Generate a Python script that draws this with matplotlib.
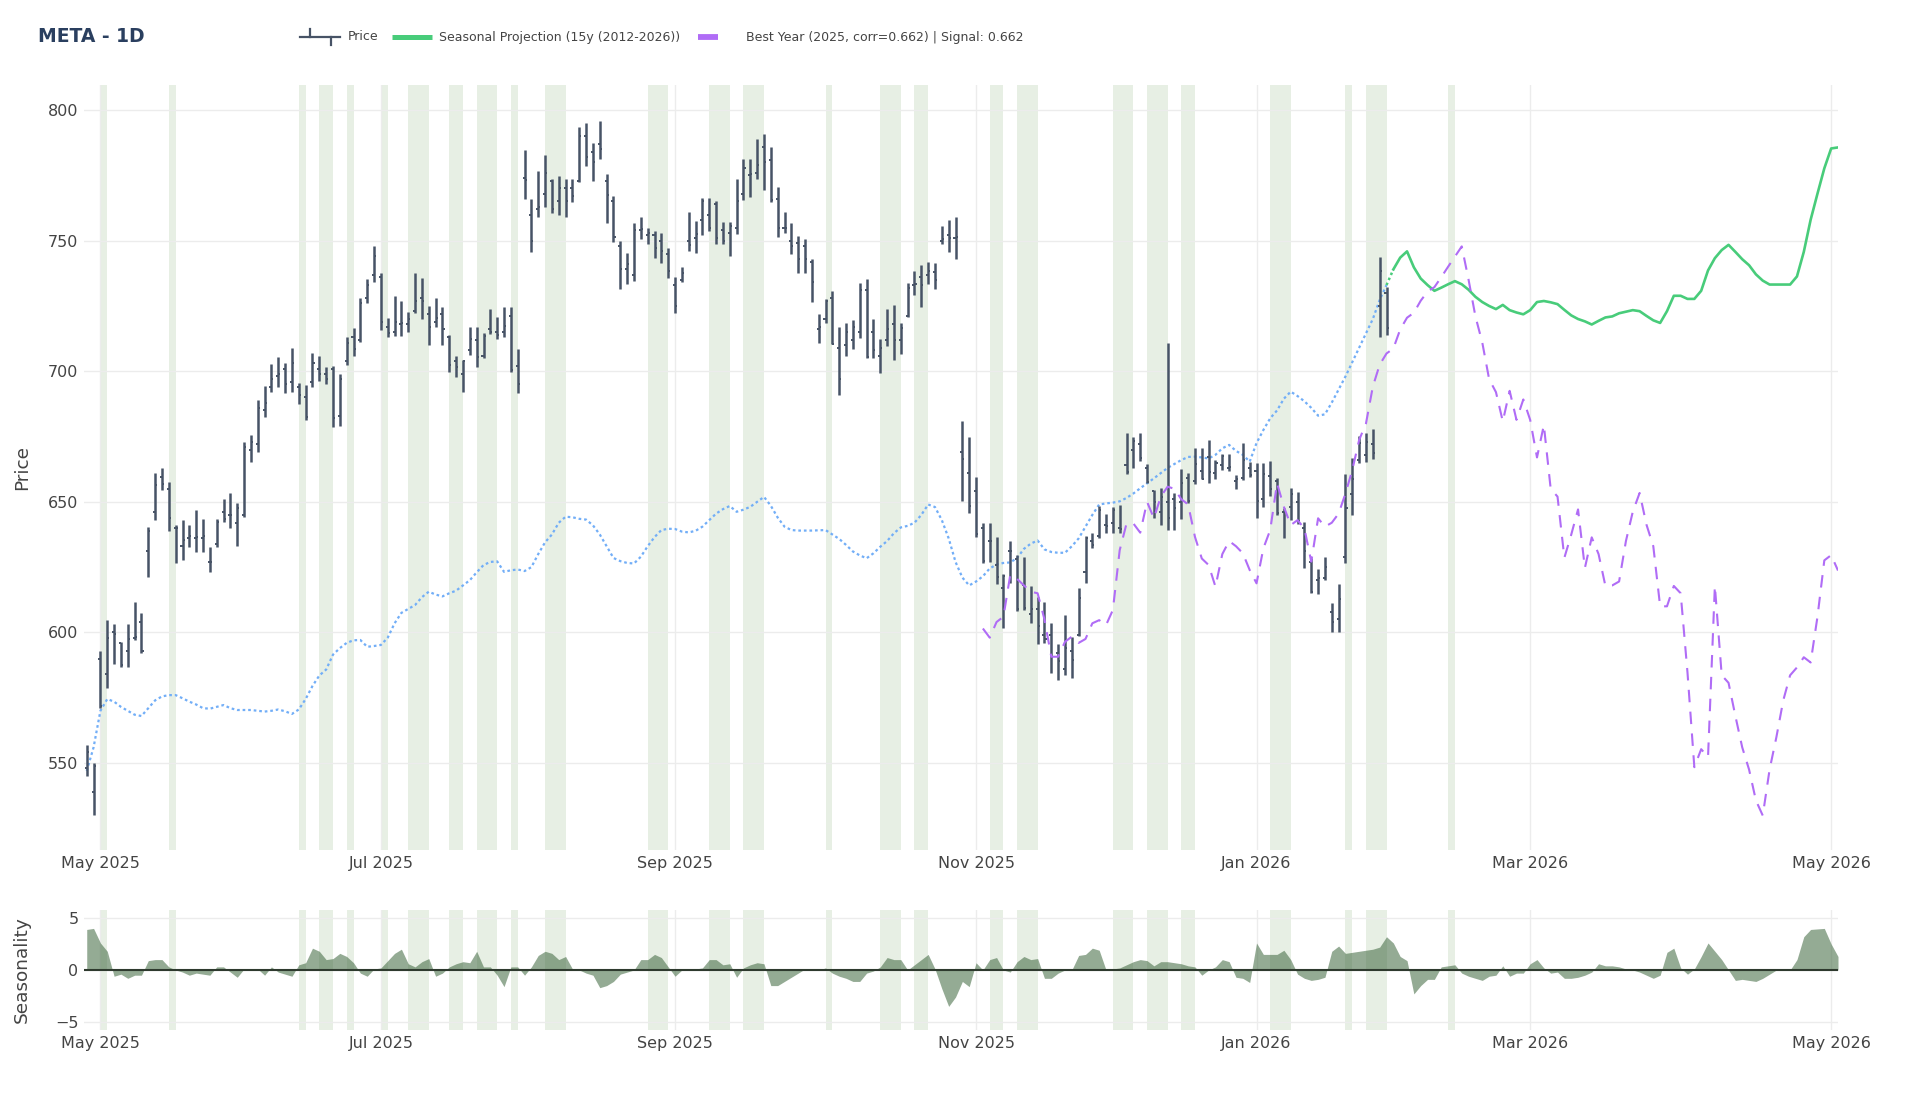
#!/usr/bin/env python3
"""META daily bars with seasonal projection and best-year overlay."""

import matplotlib

matplotlib.use("Agg")
import matplotlib.pyplot as plt
import numpy as np
import pandas as pd
from matplotlib.lines import Line2D

W, H = 1920, 1097

# trading calendar (weekends and these exchange holidays are skipped on the axis)
HOLIDAYS = ["2025-05-26", "2025-06-19", "2025-07-04", "2025-09-01",
            "2025-11-27", "2025-12-25", "2026-01-01", "2026-01-19"]

PRICE_START = "2025-04-29"
opens = [548, 539, 590, 584, 600, 596, 593, 598, 604,
         631, 646, 659.6, 655, 640, 633, 636, 636, 636, 627,
         634, 646, 645, 642, 645, 670, 672, 685, 694, 698,
         701, 696, 694, 690, 696, 701, 699, 701, 683, 704,
         713, 712, 728, 737, 736, 717, 715, 718, 718, 723,
         728, 722, 719, 722, 713, 704, 699, 708, 712, 706,
         716, 715, 715, 721, 702, 774, 760, 762, 768, 773,
         765, 770, 770, 773, 790, 784, 787, 773, 765, 748,
         739, 737, 754, 752, 752, 750, 745, 733, 735, 750,
         751, 758, 760, 764, 754, 753, 755, 768, 775, 776,
         786, 781, 766, 755, 750, 749, 748, 742, 716, 720,
         728, 709, 710, 712, 715, 731, 715, 706, 712, 718,
         712, 721, 733, 736, 737, 738, 750, 752, 751, 669,
         661, 654, 640, 635, 626, 617, 631, 628, 618, 607,
         609, 599, 599, 592, 586, 593, 599, 623, 635, 637,
         641, 642, 640, 664, 670, 672, 663, 654, 646, 650,
         651, 650, 659, 658, 662, 667, 661, 664, 663, 658,
         659, 663, 662, 651, 660, 658, 646, 648, 650, 640,
         627, 620, 621, 608, 605, 629, 653, 666, 668, 672,
         725, 730]
highs = [557, 550, 593, 604.7, 603.4, 596.4, 603.4, 611.5, 607.3,
         640.5, 660.9, 662.8, 657.5, 641.1, 643, 641.1, 646.9, 643.3, 632.8,
         643.3, 650.9, 653.2, 649.4, 673, 675.6, 689, 694.3, 702.8, 705.3,
         703.3, 708.8, 695.4, 694.7, 707.1, 705.8, 701.5, 702, 698.9, 713,
         716.4, 727.9, 735.2, 747.9, 737.7, 720.2, 728.8, 727, 722.8, 737.5,
         735.6, 725, 727.9, 724.5, 713.9, 705.8, 704.5, 716.8, 716.8, 714.5,
         723.7, 720.6, 724.7, 724.5, 708.4, 784.7, 765.8, 776.8, 782.8, 773.5,
         774.7, 773.5, 773.5, 793.6, 795.2, 787.5, 795.9, 775.5, 767.1, 750,
         745.4, 756.6, 758.9, 754.7, 753.8, 752.8, 747, 735.9, 740, 761.1,
         757.6, 766.2, 766.2, 765.3, 757.3, 757.3, 773.8, 781.1, 781.1, 788.8,
         790.8, 785.7, 770.4, 761.1, 756.6, 751.8, 750.5, 742.8, 721.9, 727.5,
         730.8, 716.8, 718.6, 719.6, 733.9, 735.2, 719.9, 712.2, 723.7, 725.4,
         718.3, 733.9, 738.5, 740.7, 742, 741.3, 755.6, 758.1, 758.9, 681.1,
         674.9, 659.4, 642, 642, 636.4, 622.3, 635.1, 629.6, 629, 617.8,
         613.7, 611.8, 603.7, 595.5, 606.7, 598.4, 616.9, 636.9, 638.2, 648.4,
         645.3, 648.1, 648.8, 676.5, 674.7, 676.5, 664.5, 654.5, 655.2, 711,
         653.2, 662.4, 661.2, 670.5, 670.8, 673.7, 666, 668.3, 668.5, 660.3,
         672.4, 665.4, 664.7, 664.7, 665.6, 659, 647.5, 655.2, 653.9, 642.4,
         628.4, 624.1, 629, 611.4, 618.5, 660.6, 666.6, 675.2, 676.5, 677.7,
         743.8, 732.4]
lows = [545, 530, 571, 578.6, 588.1, 586.9, 586.9, 597.1, 592,
        621.3, 643, 654.5, 639, 626.4, 627.7, 632.8, 630.9, 630.9, 623.2,
        632.8, 642.4, 639.9, 633.1, 644.3, 665.4, 669.2, 682.6, 692.2, 694.1,
        691.8, 692.2, 687.5, 681.3, 693.8, 696.4, 695.1, 678.8, 679, 702.4,
        705.8, 711.3, 726.3, 734.3, 715.8, 713, 713.5, 713.5, 715.1, 722.4,
        719.9, 710, 716.8, 710, 699.8, 697.7, 692.2, 706.2, 701.7, 704.9,
        714.2, 712.2, 713.2, 699.8, 691.5, 765.8, 745.8, 758.9, 763, 760.7,
        759.8, 758.9, 764.9, 772.6, 778.6, 772.8, 781.1, 756.9, 749.6, 731.4,
        733.4, 734.7, 750.5, 748.7, 743.2, 741.3, 735.6, 722.2, 734.3, 746.2,
        745.4, 752.2, 753.8, 748.7, 748.7, 744.1, 752.5, 765.5, 766.8, 773.5,
        769.4, 764.9, 751.3, 752.8, 744.9, 737.7, 737.7, 726.6, 710.7, 718.6,
        710.4, 690.9, 705.8, 708.4, 712.6, 704.9, 704.9, 699.4, 709.6, 704.3,
        706.6, 720.6, 729.2, 724.5, 733.4, 731.4, 748.7, 745.8, 742.8, 650.4,
        645.8, 636.6, 626.7, 627.1, 618.5, 601.6, 619, 608.3, 608.6, 603.5,
        595.6, 595.8, 584.3, 581.8, 583.7, 582.4, 598.6, 618.8, 632.2, 636,
        638.2, 638.2, 638.2, 660.6, 662.8, 665.8, 657.1, 643.7, 641.1, 639.2,
        639.2, 643.3, 649.7, 656.8, 658.6, 657.1, 658.6, 662.2, 661.9, 654.8,
        658.3, 659.6, 643.7, 648.1, 652.2, 644.9, 636, 643, 641.5, 624.5,
        615.2, 614.7, 620.1, 600.3, 600.3, 626.7, 644.9, 665, 665.4, 666.3,
        713.2, 713.9]
closes = [554.4, 549, 572, 597.7, 599.5, 587.5, 597.5, 598.3, 593,
          639, 656.5, 657, 644, 640, 635.5, 637, 636.5, 637, 627,
          642.3, 643.6, 645, 647.5, 670.9, 673, 686, 688, 697, 699,
          695, 703, 691, 682.5, 703, 699, 697, 682, 697, 711,
          708.5, 726, 733, 744, 719, 714.5, 719, 718.5, 720, 727,
          727, 717, 720.5, 716, 702.5, 701.5, 704, 712.5, 705.5, 713.5,
          715, 714, 717.5, 700.5, 695, 773.4, 750, 763, 776, 762,
          770, 765, 767, 790, 782, 780, 785, 767.5, 751.5, 739,
          741, 754, 754.5, 753, 747, 746, 738.5, 725, 737.5, 748.5,
          752.5, 765, 755, 751, 750, 755.5, 765, 778, 775.5, 779,
          780, 765.5, 755, 755, 748, 743, 743, 734, 717, 727,
          710.5, 697, 715, 717, 731, 705.5, 708, 709, 716, 712,
          716.5, 732, 733.5, 733, 738.5, 735, 750.8, 751, 751.5, 666.5,
          648.5, 637.7, 627.3, 635, 621.2, 621.5, 631.3, 609, 609.5, 609,
          602.5, 597.5, 590.5, 589, 594, 589.5, 613, 636, 633.5, 647,
          640.9, 647, 639.6, 661.5, 673.4, 666.9, 657.5, 650.1, 652, 644,
          647.5, 657.1, 650.4, 664.5, 658.8, 661.5, 664.8, 667.5, 663.3, 658.7,
          665.9, 660.1, 650.4, 660.6, 655, 645.7, 646.1, 653.1, 642.5, 631,
          615.5, 620.8, 625, 604, 612.9, 647.6, 658.8, 672.4, 673, 668.7,
          738.3, 716.5]

# seasonal path scaled onto history (light blue dotted), same dates as price
seasonal_hist = [547, 556, 570, 574.5, 573.5, 571.5, 570, 568.5, 568,
                 571, 574, 575.5, 576, 576, 574.8, 573.5, 572.4, 571, 570.8,
                 571.5, 572.2, 571, 570.3, 570.3, 570.3, 570, 569.7, 570, 570.5,
                 569.8, 568.8, 570.5, 574.5, 579.5, 583.5, 585.8, 591.5, 594, 596,
                 597, 597.1, 594.5, 594.8, 595.2, 598, 603.5, 607.5, 609, 610.5,
                 613.5, 615.6, 614.5, 613.8, 615, 616, 618, 620, 623, 625.8,
                 627, 627.2, 623.2, 623.8, 624.1, 623.5, 625, 630, 634.5, 637.5,
                 642, 644.3, 644.1, 643.5, 643.2, 641, 637.5, 633, 628.5, 627.3,
                 626.6, 626.4, 629, 633, 636.5, 639.2, 639.7, 639.6, 638.6, 638.3,
                 638.9, 640.5, 643, 645.5, 647.2, 648.4, 646.2, 647, 648.1, 650,
                 651.9, 648.5, 644, 640.5, 639.2, 639, 639, 639, 639.1, 639.2,
                 637.5, 635.8, 633.5, 631, 629.5, 628.4, 630.3, 632.8, 635, 638,
                 640.2, 640.8, 642, 645, 649, 648, 643, 636, 627, 621,
                 618, 619.5, 621.5, 624.5, 626, 626.6, 626.8, 628.5, 632, 634,
                 635.2, 631.8, 630.8, 630.5, 630.5, 633, 636, 640.5, 645, 649,
                 649.4, 649.7, 650.2, 651.5, 653.2, 655.2, 657.1, 659, 661, 663,
                 664.5, 666, 667.2, 667.3, 667, 666.6, 668, 670.5, 671.8, 669.5,
                 668, 665.4, 672.5, 677.5, 682, 685, 689.5, 692.2, 690.5, 688.5,
                 686, 683, 683.5, 688, 693, 698, 703.5, 709, 714.5, 720,
                 727.3, 733]

PROJ_START = "2026-02-02"
projection = [739.0, 743.5, 745.9, 739.8, 735.5, 733.0, 730.8, 732.0, 733.3, 734.5,
              733.3, 731.2, 728.5, 726.5, 725.0, 723.8, 725.4, 723.4, 722.5, 721.8,
              723.4, 726.5, 726.9, 726.4, 725.7, 723.5, 721.4, 720.0, 719.1, 717.9,
              719.3, 720.6, 721.0, 722.2, 722.8, 723.4, 723.0, 721.2, 719.5, 718.5,
              723.0, 728.9, 728.9, 727.7, 727.7, 730.8, 738.6, 743.3, 746.4, 748.4,
              745.7, 742.9, 740.6, 737.1, 734.7, 733.2, 733.2, 733.2, 733.2, 736.3,
              745.7, 758.0, 768.0, 777.7, 785.3, 785.7]

BEST_START = "2025-11-04"
best_year = [601.5, 598, 604, 606, 622, 620.5, 618, 615.6, 615, 605,
             590.7, 590.7, 596.4, 598.4, 596, 597.5, 603.5, 604.7, 602.8, 608.6,
             631.5, 641.7, 641.7, 638.2, 650, 643.7, 652, 655.8, 655, 651,
             649, 636.6, 628.3, 625.8, 617.5, 630, 635, 633, 630.3, 623.9,
             618.8, 632.2, 639.2, 657.1, 648.1, 641.1, 643, 639.8, 627.1, 643.7,
             640.5, 642, 645.5, 653.2, 662.2, 673.7, 680, 694.1, 702.5, 706.8,
             708.7, 716, 720.5, 722.4, 727, 730.5, 732.2, 736, 740, 743.9,
             747.8, 735, 721, 711, 697, 692, 680.8, 692.5, 681.4, 689.2,
             681.4, 667, 679.4, 655, 652, 628.6, 637.4, 647.1, 624.7, 636.4,
             630, 617.8, 618, 619.5, 635, 646.2, 653.4, 641.3, 633, 610,
             610, 617.8, 615, 584.6, 548.4, 555.3, 552.3, 617.8, 583.6, 580.7,
             568, 556, 547.5, 535.7, 529.9, 547.5, 560, 574, 583.6, 586.6,
             590.5, 588.5, 606, 627.6, 629.6, 623.7]

SEAS_START = "2025-04-29"
seasonality = [3.9, 4.0, 2.6, 1.8, -0.6, -0.4, -0.8, -0.5, -0.5, 0.9,
               1.0, 1.0, 0.3, 0.0, -0.2, -0.5, -0.3, -0.4, -0.5, 0.3,
               0.3, -0.2, -0.7, 0.1, 0.1, 0.1, -0.5, 0.3, -0.2, -0.4,
               -0.6, 0.5, 0.7, 2.1, 1.8, 1.0, 1.1, 1.6, 1.3, 0.7,
               -0.3, -0.6, 0.1, 0.2, 0.9, 1.6, 2.0, 0.6, 0.3, 0.8,
               1.1, -0.6, -0.3, 0.3, 0.6, 0.8, 0.7, 1.8, 0.3, 0.3,
               -0.5, -1.6, 0.3, 0.3, -0.5, 0.3, 1.4, 1.8, 1.6, 1.0,
               1.3, 0.1, 0.0, -0.3, -0.5, -1.7, -1.5, -1.1, -0.4, -0.2,
               0.0, 1.0, 1.0, 1.5, 1.2, 0.3, -0.6, 0.0, 0.1, 0.1,
               0.2, 1.0, 1.0, 0.5, 0.6, -0.7, 0.2, 0.5, 0.7, 0.6,
               -1.5, -1.5, -1.1, -0.7, -0.3, 0.1, 0.0, 0.0, 0.2, -0.3,
               -0.6, -0.8, -1.1, -1.1, -0.3, -0.1, 0.3, 1.2, 1.0, 1.0,
               0.0, 0.5, 1.0, 1.5, 0.1, -1.8, -3.5, -2.6, -1.1, -1.6,
               0.7, 0.0, 1.0, 1.2, 0.0, -0.2, 0.8, 1.3, 1.0, 1.1,
               -0.8, -0.8, -0.3, 0.0, 0.0, 1.4, 1.5, 2.1, 1.9, 0.0,
               0.1, 0.2, 0.5, 0.8, 1.0, 0.9, 0.4, 0.8, 0.8, 0.7,
               0.6, 0.4, 0.3, -0.5, 0.0, 0.3, 1.0, 0.8, -0.7, -0.8,
               -1.2, 2.6, 1.5, 1.5, 1.5, 1.9, 1.0, -0.4, -0.8, -1.0,
               -0.9, -0.7, 1.8, 2.3, 1.6, 1.7, 1.8, 1.9, 2.0, 2.2,
               3.2, 2.6, 1.3, 0.9, -2.3, -1.5, -0.9, -0.9, 0.3, 0.4,
               0.5, -0.3, -0.6, -0.8, -1.0, -0.6, -0.5, 0.4, -0.6, -0.3,
               -0.3, 0.6, 1.0, 0.2, -0.3, -0.2, -0.8, -0.8, -0.7, -0.5,
               -0.2, 0.6, 0.4, 0.4, 0.3, 0.1, 0.0, -0.2, -0.5, -0.8,
               -0.5, 1.7, 2.1, 0.2, -0.4, 0.1, 1.3, 2.6, 1.8, 1.0,
               0.0, -1.0, -0.9, -1.0, -1.1, -0.8, -0.4, 0.0, 0.0, 0.0,
               1.0, 3.2, 3.9, 3.95, 4.0, 2.5, 1.3]

# highlighted days (start, end inclusive)
highlight_days = [("2025-05-01", "2025-05-01"), ("2025-05-15", "2025-05-15"),
                  ("2025-06-12", "2025-06-12"), ("2025-06-17", "2025-06-18"),
                  ("2025-06-24", "2025-06-24"), ("2025-07-01", "2025-07-01"),
                  ("2025-07-08", "2025-07-10"), ("2025-07-16", "2025-07-17"),
                  ("2025-07-22", "2025-07-24"), ("2025-07-29", "2025-07-29"),
                  ("2025-08-05", "2025-08-07"), ("2025-08-26", "2025-08-28"),
                  ("2025-09-09", "2025-09-11"), ("2025-09-16", "2025-09-18"),
                  ("2025-10-02", "2025-10-02"), ("2025-10-14", "2025-10-16"),
                  ("2025-10-21", "2025-10-22"), ("2025-11-05", "2025-11-06"),
                  ("2025-11-11", "2025-11-13"), ("2025-12-02", "2025-12-04"),
                  ("2025-12-09", "2025-12-11"), ("2025-12-16", "2025-12-17"),
                  ("2026-01-06", "2026-01-08"), ("2026-01-22", "2026-01-22"),
                  ("2026-01-27", "2026-01-29"), ("2026-02-12", "2026-02-12")]

tick_months = ["2025-05-01", "2025-07-01", "2025-09-01", "2025-11-01",
               "2026-01-01", "2026-03-01", "2026-05-01"]
tick_labels = ["May 2025", "Jul 2025", "Sep 2025", "Nov 2025",
               "Jan 2026", "Mar 2026", "May 2026"]

TITLE = "META - 1D"
LEG_PRICE = "Price"
LEG_PROJ = "Seasonal Projection (15y (2012-2026))"
LEG_BEST = "Best Year (2025, corr=0.662) | Signal: 0.662"

BAR_C = "#475366"
BLUE_C = "#72aef7"
GREEN_C = "#48cc7a"
PURPLE_C = "#b06cf6"
BAND_C = "#e7efe4"
GRID_C = "#ececec"
TEXT_C = "#444444"

plt.rcParams["font.family"] = ["DejaVu Sans"]

days = pd.bdate_range("2025-04-29", "2026-05-04")
days = days[~days.isin(pd.to_datetime(HOLIDAYS))]


def pos(d):
    return int(days.searchsorted(pd.Timestamp(d)))


def fx(x):
    return x / W


def fy(y):
    return 1 - y / H


AX_L, AX_R = 84, 1838
fig = plt.figure(figsize=(W / 100, H / 100), dpi=100)
ax = fig.add_axes([fx(AX_L), fy(850), (AX_R - AX_L) / W, (850 - 85) / H])
ax2 = fig.add_axes([fx(AX_L), fy(1030), (AX_R - AX_L) / W, (1030 - 910) / H])

xmin, xmax = -0.4, len(days) - 1
ticks = [pos(m) for m in tick_months]
label_x = (31 - AX_L) / (AX_R - AX_L)

for a in (ax, ax2):
    for s, e in highlight_days:
        a.axvspan(pos(s), pos(e) + 1, color=BAND_C, lw=0, zorder=0)
    a.set_xlim(xmin, xmax)
    a.set_xticks(ticks)
    a.set_xticklabels(tick_labels)
    a.grid(color=GRID_C, lw=1, zorder=0.5)
    a.set_axisbelow(True)
    for sp in a.spines.values():
        sp.set_visible(False)
    a.tick_params(length=0, labelsize=11.5, colors=TEXT_C, pad=4)

# price bars
xp = pos(PRICE_START) + np.arange(len(opens))
ax.vlines(xp, lows, highs, color=BAR_C, lw=1.8, zorder=3)
ax.hlines(opens, xp - 0.3, xp, color=BAR_C, lw=1.4, zorder=3)
ax.hlines(closes, xp, xp + 0.3, color=BAR_C, lw=1.4, zorder=3)

ax.plot(xp, seasonal_hist, color=BLUE_C, lw=1.6, ls=(0, (1.2, 1.3)), zorder=2)

xg = pos(PROJ_START) + np.arange(len(projection))
ax.plot([xp[-1], xg[0]], [seasonal_hist[-1], projection[0]], color=GREEN_C,
        lw=1.8, ls=(0, (1.0, 1.2)), zorder=4)
ax.plot(xg, projection, color=GREEN_C, lw=1.9, zorder=4)

xb = pos(BEST_START) + np.arange(len(best_year))
ax.plot(xb, best_year, color=PURPLE_C, lw=1.5, ls=(0, (6, 4.5)), zorder=4)

ax.set_ylim(516.7, 809.6)
ax.set_yticks([550, 600, 650, 700, 750, 800])
ax.set_ylabel("Price", fontsize=13.3, color=TEXT_C)
ax.yaxis.set_label_coords(label_x, 0.5)

# seasonality panel
xs = pos(SEAS_START) + np.arange(len(seasonality))
ax2.fill_between(xs, 0, seasonality, color=(0.24, 0.40, 0.24), alpha=0.55, lw=0, zorder=2)
ax2.axhline(0, color="#2e3a2e", lw=1.5, zorder=3)
ax2.set_ylim(-5.77, 5.77)
ax2.set_yticks([-5, 0, 5])
ax2.set_ylabel("Seasonality", fontsize=13.3, color=TEXT_C)
ax2.yaxis.set_label_coords(label_x, 0.5)

# title and legend row
fig.text(fx(38), fy(37), TITLE, fontsize=13.5, fontweight="bold", color="#2a3f5f",
         va="center", ha="left")
leg_y = fy(37)
fig.add_artist(Line2D([fx(300), fx(340)], [leg_y, leg_y], color=BAR_C, lw=1.6))
fig.add_artist(Line2D([fx(310), fx(310)], [fy(29), leg_y], color=BAR_C, lw=1.6))
fig.add_artist(Line2D([fx(331), fx(331)], [leg_y, fy(45)], color=BAR_C, lw=1.6))
fig.text(fx(348), leg_y, LEG_PRICE, fontsize=9, color=TEXT_C, va="center", ha="left")
fig.add_artist(Line2D([fx(392), fx(432)], [leg_y, leg_y], color=GREEN_C, lw=3.6,
                      solid_capstyle="butt"))
fig.text(fx(439), leg_y, LEG_PROJ, fontsize=9, color=TEXT_C, va="center", ha="left")
fig.add_artist(Line2D([fx(698), fx(718)], [leg_y, leg_y], color=PURPLE_C, lw=4.2,
                      solid_capstyle="butt"))
fig.text(fx(746), leg_y, LEG_BEST, fontsize=9, color=TEXT_C, va="center", ha="left")

fig.savefig("out.png", dpi=100, facecolor="white")
